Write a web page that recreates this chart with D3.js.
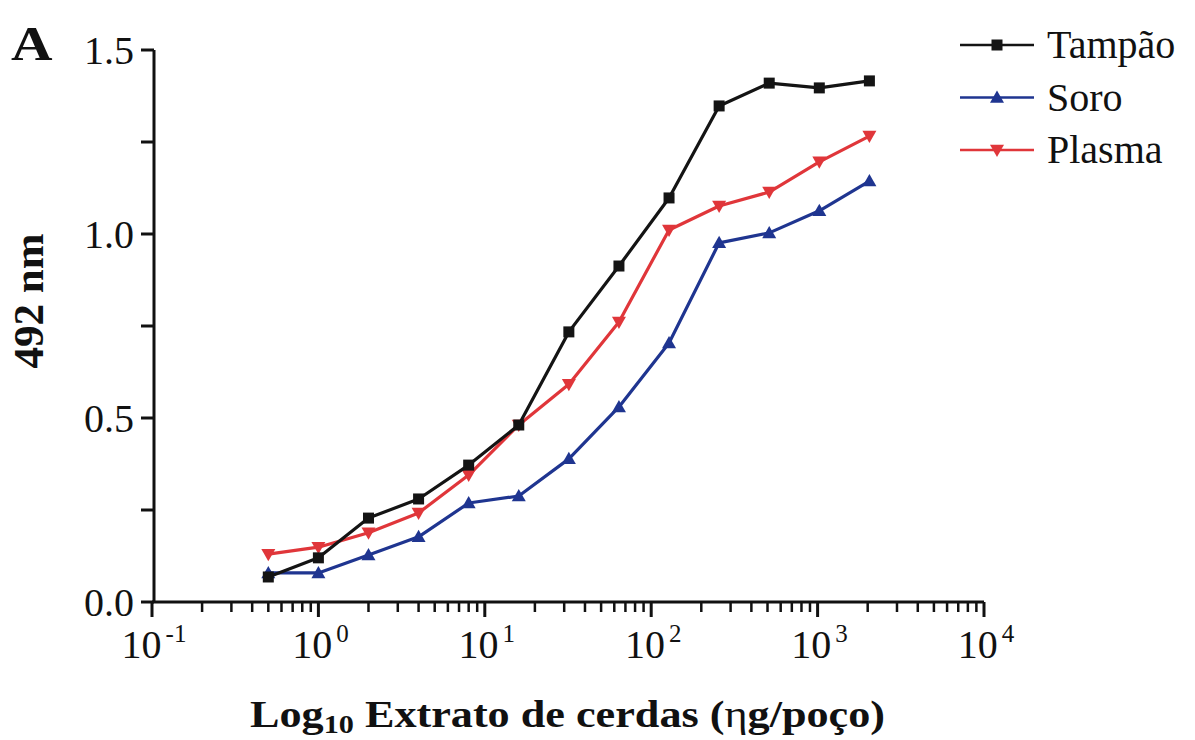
<!DOCTYPE html>
<html><head><meta charset="utf-8">
<script src="https://cdn.jsdelivr.net/npm/d3@7"></script>
<style>body{margin:0;background:#fff;} svg{display:block;} text{font-family:"Liberation Serif","Times New Roman",serif;fill:#111;}</style>
</head><body>
<svg id="c" width="1195" height="740"></svg>
<script>
const doses = [0.5, 1, 2, 4, 8, 16, 32, 64, 128, 256, 512, 1024, 2048];
const tampao = [0.068, 0.120, 0.228, 0.280, 0.372, 0.481, 0.734, 0.913, 1.098, 1.348, 1.410, 1.397, 1.416];
const soro   = [0.079, 0.079, 0.128, 0.177, 0.269, 0.288, 0.389, 0.530, 0.704, 0.976, 1.003, 1.063, 1.144];
const plasma = [0.130, 0.149, 0.188, 0.242, 0.345, 0.481, 0.592, 0.761, 1.011, 1.076, 1.114, 1.196, 1.266];
const seriesNames = ["Tampão", "Soro", "Plasma"];
const xTickExps = [-1, 0, 1, 2, 3, 4];
const yTickLabels = [0.0, 0.5, 1.0, 1.5];

const series = [
  {name: seriesNames[0], values: tampao, color: "#141414", marker: "square"},
  {name: seriesNames[1], values: soro, color: "#1f3590", marker: "up"},
  {name: seriesNames[2], values: plasma, color: "#e0363a", marker: "down"}
];

const svg = d3.select("#c");
const x = d3.scaleLog().domain([0.1, 10000]).range([152, 984]);
const y = d3.scaleLinear().domain([0, 1.5]).range([602, 50]);

// x axis
const gx = svg.append("g").attr("transform", "translate(0,602)");
gx.append("line").attr("x1", x(0.1)).attr("x2", x(10000)).attr("stroke", "#111").attr("stroke-width", 3);
const minor = [];
for (let e = -1; e < 4; e++) for (let k = 2; k <= 9; k++) minor.push(k * Math.pow(10, e));
gx.selectAll(".mn").data(minor).join("line")
  .attr("x1", d => x(d)).attr("x2", d => x(d)).attr("y1", 0).attr("y2", 10)
  .attr("stroke", "#111").attr("stroke-width", 2.5);
gx.selectAll(".mj").data(xTickExps).join("line")
  .attr("x1", d => x(Math.pow(10, d))).attr("x2", d => x(Math.pow(10, d))).attr("y1", 0).attr("y2", 15)
  .attr("stroke", "#111").attr("stroke-width", 3);
const xl = gx.selectAll(".xl").data(xTickExps).join("text")
  .attr("x", d => x(Math.pow(10, d)) + 2).attr("y", 56).attr("text-anchor", "middle")
  .style("font-size", "40px");
xl.append("tspan").text("10");
xl.append("tspan").attr("dy", -16).attr("dx", 4).style("font-size", "25px").text(d => d < 0 ? "-" + Math.abs(d) : String(d));

// y axis
const gy = svg.append("g").attr("transform", "translate(154,0)");
gy.append("line").attr("y1", y(0)).attr("y2", y(1.5)).attr("stroke", "#111").attr("stroke-width", 3);
gy.selectAll(".yt").data(d3.range(0, 1.51, 0.25)).join("line")
  .attr("x1", -13).attr("x2", 0).attr("y1", d => y(d)).attr("y2", d => y(d))
  .attr("stroke", "#111").attr("stroke-width", 3);
gy.selectAll(".yl").data(yTickLabels).join("text")
  .attr("x", -20).attr("y", d => y(d) + 14).attr("text-anchor", "end")
  .style("font-size", "40px").text(d => d.toFixed(1));

// lines
const line = d3.line().x((d, i) => x(doses[i])).y(d => y(d));
function marker(g, type, cx, cy, color) {
  if (type === "square") {
    g.append("rect").attr("x", cx - 5.5).attr("y", cy - 5.5).attr("width", 11).attr("height", 11).attr("fill", color);
  } else {
    const s = 7;
    const pts = type === "up"
      ? [[cx, cy - s], [cx - s, cy + s * 0.75], [cx + s, cy + s * 0.75]]
      : [[cx, cy + s], [cx - s, cy - s * 0.75], [cx + s, cy - s * 0.75]];
    g.append("polygon").attr("points", pts.map(p => p.join(",")).join(" ")).attr("fill", color);
  }
}
const order = [series[1], series[2], series[0]];
order.forEach(s => {
  svg.append("path").datum(s.values).attr("d", line).attr("fill", "none")
    .attr("stroke", s.color).attr("stroke-width", 3.2).attr("stroke-linejoin", "round");
  const g = svg.append("g");
  s.values.forEach((v, i) => marker(g, s.marker, x(doses[i]), y(v), s.color));
});

// legend
const lg = svg.append("g");
series.forEach((s, i) => {
  const yy = 45 + i * 52.5;
  lg.append("line").attr("x1", 960).attr("x2", 1034).attr("y1", yy).attr("y2", yy)
    .attr("stroke", s.color).attr("stroke-width", 2.5);
  marker(lg, s.marker, 997, yy, s.color);
  lg.append("text").attr("x", 1047).attr("y", yy + 13).style("font-size", "40px").text(s.name);
});

// titles
svg.append("text").attr("x", 11).attr("y", 60).attr("transform", "translate(11,60) scale(1.25,1.05) translate(-11,-60)")
  .style("font-size", "46px").style("font-weight", "bold").text("A");
svg.append("text").attr("transform", "translate(43,301) rotate(-90)").attr("text-anchor", "middle")
  .style("font-size", "43px").style("font-weight", "bold").text("492 nm");
const xt = svg.append("text").attr("x", 250).attr("y", 727)
  .attr("textLength", 635).attr("lengthAdjust", "spacingAndGlyphs")
  .style("font-size", "38px").style("font-weight", "bold");
xt.append("tspan").text("Log");
xt.append("tspan").attr("dy", 6).style("font-size", "26px").text("10");
xt.append("tspan").attr("dy", -6).text(" Extrato de cerdas (");
xt.append("tspan").style("font-weight", "normal").text("η");
xt.append("tspan").text("g/poço)");
</script>
</body></html>
